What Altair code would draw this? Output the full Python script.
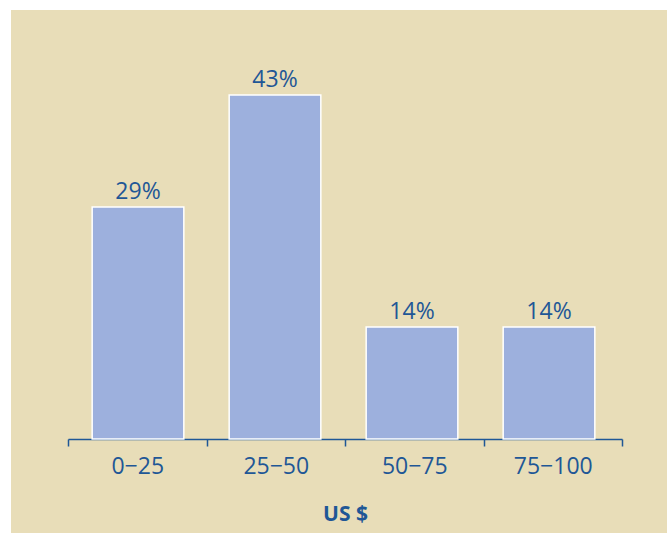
import altair as alt
import pandas as pd

categories = ["0\u221225", "25\u221250", "50\u221275", "75\u2212100"]
values = [29, 43, 14, 14]
labels = ["29%", "43%", "14%", "14%"]

df = pd.DataFrame({"cat": categories, "val": values, "lab": labels})

BLUE = "#1f5796"
FONT = "Open Sans"

x_axis = alt.X(
    "cat:N",
    sort=categories,
    scale=alt.Scale(range=[57, 611], paddingInner=0, paddingOuter=0),
    axis=alt.Axis(
        title="US $",
        labelAngle=0,
        domainColor=BLUE,
        domainWidth=1.5,
        tickColor=BLUE,
        tickWidth=1.5,
        tickSize=7,
        tickBand="extent",
        labelColor=BLUE,
        labelFont=FONT,
        labelFontSize=23,
        labelPadding=9,
        titleColor=BLUE,
        titleFont=FONT,
        titleFontSize=21,
        titleFontWeight="bold",
        titlePadding=25,
        offset=-94,
        grid=False,
    ),
)
x_bars = alt.X(
    "cat:N",
    sort=categories,
    scale=alt.Scale(range=[58.5, 606.5], paddingInner=0, paddingOuter=0),
    axis=None,
)
y = alt.Y("val:Q", scale=alt.Scale(domain=[0, 53.625], range=[429, 0]), axis=None)

axis_layer = alt.Chart(df).mark_tick(opacity=0).encode(x=x_axis, y=y)
bars = alt.Chart(df).mark_bar(
    color="#9db0dd", stroke="white", strokeWidth=1.5, width=alt.RelativeBandSize(0.669)
).encode(x=x_bars, y=y)
text = alt.Chart(df).mark_text(
    baseline="bottom", dy=-3, fontSize=23, font=FONT, color=BLUE
).encode(x=x_bars, y=y, text="lab:N")

chart = (
    alt.layer(alt.layer(bars, text), axis_layer)
    .resolve_scale(x="independent")
    .properties(width=656, height=523, autosize=alt.AutoSizeParams(type="none"),
                padding={"left": 11, "top": 10, "right": 0, "bottom": 0},
                background="white")
    .configure_view(fill="#e8ddb8", stroke=None)
)

chart.save("out.html", embed_options={"renderer": "svg", "actions": False})
